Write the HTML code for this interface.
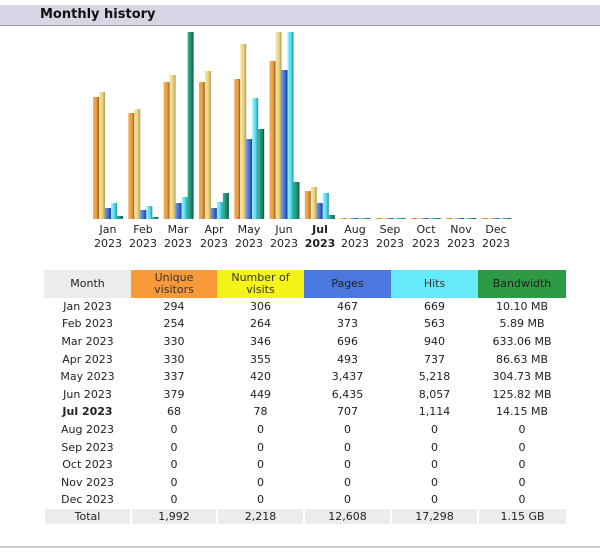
<!DOCTYPE html>
<html><head><meta charset="utf-8"><style>
body{margin:0;width:600px;height:556px;background:#fff;font-family:"DejaVu Sans",Verdana,sans-serif;position:relative;overflow:hidden}
.hdr{position:absolute;left:0;top:5px;width:600px;height:20px;background:#d6d6e4;border-bottom:1px solid #9a9aa8}
.hdr span{position:absolute;left:40px;top:2px;font-weight:bold;font-size:13px;color:#111}
svg{position:absolute;left:0;top:0}
table{position:absolute;left:43px;top:270px;border-collapse:collapse;font-size:11px;color:#222}
td{text-align:center;padding:0;height:17.6px;line-height:12px}
th{font-weight:normal;height:28px;font-size:11px;line-height:12px;padding:0}
.tot td{background:#ececec;height:15px;border-left:2px solid #fff}
.foot{position:absolute;left:0;top:546px;width:600px;height:2px;background:#ccc}
</style></head><body>
<div class="hdr"><span>Monthly history</span></div>
<svg width="600" height="260" xmlns="http://www.w3.org/2000/svg">
<defs>
<linearGradient id="u"><stop offset="0" stop-color="#f0b060"/><stop offset="0.6" stop-color="#e89a40"/><stop offset="1" stop-color="#9a5a10"/></linearGradient>
<linearGradient id="v"><stop offset="0" stop-color="#f8e8a8"/><stop offset="0.6" stop-color="#e8d080"/><stop offset="1" stop-color="#b09850"/></linearGradient>
<linearGradient id="p"><stop offset="0" stop-color="#6a9ae8"/><stop offset="0.6" stop-color="#3a6ad0"/><stop offset="1" stop-color="#1a3a90"/></linearGradient>
<linearGradient id="h"><stop offset="0" stop-color="#a0f4ff"/><stop offset="0.6" stop-color="#50d8ee"/><stop offset="1" stop-color="#2090a8"/></linearGradient>
<linearGradient id="b"><stop offset="0" stop-color="#40b090"/><stop offset="0.6" stop-color="#1a8a6a"/><stop offset="1" stop-color="#0a5a40"/></linearGradient>
</defs>
<g id="bars"></g>
<g font-size="11" fill="#222" text-anchor="middle" font-family="DejaVu Sans, sans-serif">
<text x="108" y="233">Jan</text><text x="108" y="247">2023</text>
<text x="143" y="233">Feb</text><text x="143" y="247">2023</text>
<text x="178" y="233">Mar</text><text x="178" y="247">2023</text>
<text x="214" y="233">Apr</text><text x="214" y="247">2023</text>
<text x="249" y="233">May</text><text x="249" y="247">2023</text>
<text x="284" y="233">Jun</text><text x="284" y="247">2023</text>
<text x="320" y="233" font-weight="bold">Jul</text><text x="320" y="247" font-weight="bold">2023</text>
<text x="355" y="233">Aug</text><text x="355" y="247">2023</text>
<text x="390" y="233">Sep</text><text x="390" y="247">2023</text>
<text x="426" y="233">Oct</text><text x="426" y="247">2023</text>
<text x="461" y="233">Nov</text><text x="461" y="247">2023</text>
<text x="496" y="233">Dec</text><text x="496" y="247">2023</text>
</g>
</svg>
<script>
var d=[[122,127,11,16,3],[106,110,9,13,2],[137,144,16,22,187],[137,148,11,17,26],[140,175,80,121,90],[158,187,149,187,37],[28,32,16,26,4],[1,1,1,1,1],[1,1,1,1,1],[1,1,1,1,1],[1,1,1,1,1],[1,1,1,1,1]];
var f=['u','v','p','h','b'],s='';
for(var m=0;m<12;m++){var x0=93+m*35.3;for(var k=0;k<5;k++){var hh=d[m][k];s+='<rect x="'+(x0+k*6).toFixed(1)+'" y="'+(219-hh)+'" width="6" height="'+hh+'" fill="url(#'+f[k]+')"/>';}}
document.getElementById('bars').innerHTML=s;
</script>
<table>
<tr><th style="width:87px;background:#ececec">Month</th><th style="width:86px;background:#f99a3a;color:#333">Unique<br>visitors</th><th style="width:87px;background:#f4f41a;color:#333">Number of<br>visits</th><th style="width:87px;background:#4a78dc;color:#222">Pages</th><th style="width:87px;background:#66eafa;color:#333">Hits</th><th style="width:88px;background:#2e9a46;color:#222">Bandwidth</th></tr>
<tr><td>Jan 2023</td><td>294</td><td>306</td><td>467</td><td>669</td><td>10.10 MB</td></tr>
<tr><td>Feb 2023</td><td>254</td><td>264</td><td>373</td><td>563</td><td>5.89 MB</td></tr>
<tr><td>Mar 2023</td><td>330</td><td>346</td><td>696</td><td>940</td><td>633.06 MB</td></tr>
<tr><td>Apr 2023</td><td>330</td><td>355</td><td>493</td><td>737</td><td>86.63 MB</td></tr>
<tr><td>May 2023</td><td>337</td><td>420</td><td>3,437</td><td>5,218</td><td>304.73 MB</td></tr>
<tr><td>Jun 2023</td><td>379</td><td>449</td><td>6,435</td><td>8,057</td><td>125.82 MB</td></tr>
<tr><td><b>Jul 2023</b></td><td>68</td><td>78</td><td>707</td><td>1,114</td><td>14.15 MB</td></tr>
<tr><td>Aug 2023</td><td>0</td><td>0</td><td>0</td><td>0</td><td>0</td></tr>
<tr><td>Sep 2023</td><td>0</td><td>0</td><td>0</td><td>0</td><td>0</td></tr>
<tr><td>Oct 2023</td><td>0</td><td>0</td><td>0</td><td>0</td><td>0</td></tr>
<tr><td>Nov 2023</td><td>0</td><td>0</td><td>0</td><td>0</td><td>0</td></tr>
<tr><td>Dec 2023</td><td>0</td><td>0</td><td>0</td><td>0</td><td>0</td></tr>
<tr class="tot"><td>Total</td><td>1,992</td><td>2,218</td><td>12,608</td><td>17,298</td><td>1.15 GB</td></tr>
</table>
<div class="foot"></div>
</body></html>
